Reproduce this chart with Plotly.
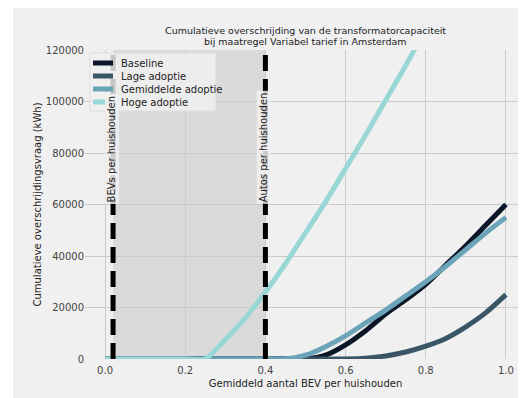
import plotly.graph_objects as go

x_vals = [0.0, 0.05, 0.1, 0.15, 0.2, 0.25, 0.3, 0.35, 0.4, 0.45, 0.5,
          0.55, 0.6, 0.65, 0.7, 0.75, 0.8, 0.85, 0.9, 0.95, 1.0]
baseline = [0, 0, 0, 0, 0, 0, 0, 0, 0, 0, 0,
            1500, 5500, 11000, 17500, 23000, 29000, 36500, 44000, 52000, 60000]
lage = [0, 0, 0, 0, 0, 0, 0, 0, 0, 0, 0,
        0, 0, 300, 1200, 2700, 5000, 8000, 12500, 18000, 25000]
gemiddelde = [0, 0, 0, 0, 0, 0, 0, 0, 0, 0, 1500,
              4800, 9000, 14000, 19000, 24500, 30000, 36000, 42500, 49000, 55000]
hoge = [0, 0, 0, 0, 0, 0, 7500, 16000, 26000, 37000, 49000,
        61000, 74000, 87000, 100500, 114000, 128000, 142000, 156000, 170000, 185000]

series_names = ["Baseline", "Lage adoptie", "Gemiddelde adoptie", "Hoge adoptie"]
series_colors = ["#0b1726", "#3a5566", "#6ba3b8", "#98d7d5"]

vline_x = [0.02, 0.4]
vline_labels = ["BEVs per huishouden", "Autos per huishouden"]
label_y = 60000

x_ticks = [0.0, 0.2, 0.4, 0.6, 0.8, 1.0]
y_ticks = [0, 20000, 40000, 60000, 80000, 100000, 120000]

title_lines = ["Cumulatieve overschrijding van de transformatorcapaciteit",
               "bij maatregel Variabel tarief in Amsterdam"]

FONT = "DejaVu Sans"
W, H = 518, 390
L, R, T, B = 77, 0, 42, 39
PW, PH = W - L - R, H - T - B


def px(xp):
    return (xp - L) / PW


def py(yp):
    return (H - B - yp) / PH


fig = go.Figure()

for name, ys, col in zip(series_names, [baseline, lage, gemiddelde, hoge], series_colors):
    fig.add_trace(go.Scatter(x=x_vals, y=ys, mode="lines", name=name, showlegend=False,
                             line=dict(color=col, width=5, shape="spline", smoothing=0.6)))

# white strip at the left edge of the figure
fig.add_shape(type="rect", xref="paper", yref="paper", x0=px(-5), x1=px(5),
              y0=py(H + 5), y1=py(-5), fillcolor="white", line=dict(width=0), layer="below")

# shaded region
fig.add_shape(type="rect", xref="x", yref="paper", x0=vline_x[0], x1=vline_x[1],
              y0=0, y1=1, fillcolor="#dadada", line=dict(width=0), layer="below")
for vx in vline_x:
    fig.add_shape(type="line", xref="x", yref="paper", x0=vx, x1=vx, y0=0, y1=1,
                  line=dict(color="black", width=5, dash="16px,8px"), layer="above")
for vx, lab in zip(vline_x, vline_labels):
    fig.add_annotation(x=vx - 0.004, y=label_y, xref="x", yref="y", text=lab,
                       textangle=-90, showarrow=False, xanchor="center", yanchor="bottom",
                       font=dict(family=FONT, size=10, color="#222222"),
                       bgcolor="rgba(240,240,240,0.85)", borderpad=1)

# custom legend (compact spacing)
fig.add_shape(type="rect", xref="paper", yref="paper", x0=px(82), x1=px(208),
              y0=py(103), y1=py(45), fillcolor="rgba(240,240,240,0.82)",
              line=dict(color="#dddddd", width=1), layer="above")
legend_y = [55, 68, 81, 94]
for name, col, ly in zip(series_names, series_colors, legend_y):
    fig.add_shape(type="line", xref="paper", yref="paper", x0=px(85), x1=px(105),
                  y0=py(ly), y1=py(ly), line=dict(color=col, width=5), layer="above")
    fig.add_annotation(x=px(111), y=py(ly), xref="paper", yref="paper", text=name,
                       showarrow=False, xanchor="left", yanchor="middle",
                       font=dict(family=FONT, size=10, color="#222222"))

# title lines
for line_text, ty in zip(title_lines, [22, 33]):
    fig.add_annotation(x=0.5, y=py(ty), xref="paper", yref="paper", text=line_text,
                       showarrow=False, xanchor="center", yanchor="middle",
                       font=dict(family=FONT, size=9.5, color="#222222"))

fig.update_layout(
    width=W, height=H,
    margin=dict(l=L, r=R, t=T, b=B, autoexpand=False),
    paper_bgcolor="#f0f0f0", plot_bgcolor="#f0f0f0",
    font=dict(family=FONT, size=10, color="#333333"),
    showlegend=False,
)
fig.update_xaxes(range=[-0.05, 1.05], tickvals=x_ticks, ticktext=["0.0", "0.2", "0.4", "0.6", "0.8", "1.0"],
                 showgrid=True, gridcolor="#cbcbcb", gridwidth=1, zeroline=False, showline=False,
                 ticks="outside", ticklen=2, tickcolor="rgba(0,0,0,0)",
                 title=dict(text="Gemiddeld aantal BEV per huishouden", standoff=4,
                            font=dict(family=FONT, size=10, color="#222222")),
                 tickfont=dict(family=FONT, size=10, color="#444444"))
fig.update_yaxes(range=[0, 120000], tickvals=y_ticks, ticktext=[str(v) for v in y_ticks],
                 showgrid=True, gridcolor="#cbcbcb", gridwidth=1, zeroline=False, showline=False,
                 ticks="", 
                 title=dict(text="Cumulatieve overschrijdingsvraag (kWh)", standoff=2,
                            font=dict(family=FONT, size=10, color="#222222")),
                 tickfont=dict(family=FONT, size=10, color="#444444"))

fig.write_html("out.html")
